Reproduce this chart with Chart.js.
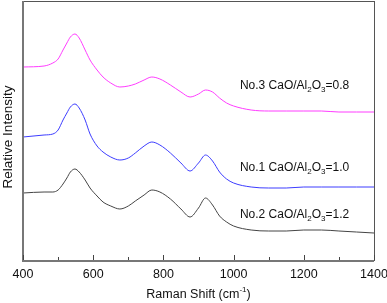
<!DOCTYPE html>
<html>
<head>
<meta charset="utf-8">
<script src="https://cdn.jsdelivr.net/npm/chart.js@4.4.1/dist/chart.umd.min.js"></script>
<style>
  html, body { margin: 0; padding: 0; background: #fff; }
  canvas { display: block; }
</style>
</head>
<body>
<canvas id="raman" width="387" height="303"></canvas>
<script>
// Raman shift (cm-1) sample points
const shifts = [400, 460, 485, 500, 514, 525, 535, 548, 560, 577, 591, 611, 628, 650, 676, 700, 720, 745, 767, 790,
    820, 850, 876, 900, 920, 940, 960, 980, 1000, 1050, 1100, 1150, 1200, 1250, 1300, 1350, 1400];

// relative intensity, offset per sample
const no3 = [193, 194, 197, 201, 210, 217, 223, 226, 222, 210, 200, 190, 183, 177, 173, 174, 176, 180, 183, 181,
    175, 168, 163, 166, 170, 168, 162, 157, 154, 150, 149, 149, 149, 149, 148, 148, 148];
const no1 = [123, 125, 126, 130, 140, 147, 153, 156, 152, 140, 126, 114, 108, 103, 100, 102, 107, 114, 118, 115,
    107, 97, 89, 97, 105, 99, 88, 81, 77, 73, 72, 72, 73, 73, 73, 73, 73];
const no2 = [67, 68, 68, 70, 76, 82, 88, 91, 88, 80, 72, 64, 58, 54, 51, 54, 59, 65, 70, 68,
    61, 51, 43, 52, 62, 55, 44, 38, 34, 30, 29, 29, 30, 30, 29, 28, 27];

const seriesNames = ['No.3', 'No.1', 'No.2'];
const ratios = ['0.8', '1.0', '1.2'];
const labelX = [1018, 1018, 1018];
const labelY = [174, 92, 45];
const colors = ['#ff3cff', '#3c3cff', '#444444'];

const majorTicks = [400, 600, 800, 1000, 1200, 1400];
const minorTicks = [500, 700, 900, 1100, 1300];

const FONT = '"Liberation Sans", Arial, sans-serif';

function toPoints(vals) {
    return shifts.map((s, i) => ({ x: s, y: vals[i] }));
}

// frame, inward ticks, curve labels and axis titles
const decorations = {
    id: 'decorations',
    afterDraw(chart) {
        const ctx = chart.ctx;
        const area = chart.chartArea;
        const xs = chart.scales.x;
        const ys = chart.scales.y;
        ctx.save();

        ctx.strokeStyle = '#555';
        ctx.lineWidth = 1;
        ctx.strokeRect(area.left + 0.5, area.top + 0.5, area.right - area.left, area.bottom - area.top);
        ctx.strokeStyle = '#777';
        ctx.lineWidth = 2;
        ctx.beginPath();
        ctx.moveTo(area.left, area.top);
        ctx.lineTo(area.left, area.bottom + 1);
        ctx.lineTo(area.right, area.bottom + 1);
        ctx.stroke();

        ctx.strokeStyle = '#444';
        ctx.lineWidth = 1;
        majorTicks.forEach(v => {
            const px = Math.round(xs.getPixelForValue(v)) + 0.5;
            ctx.beginPath();
            ctx.moveTo(px, area.bottom);
            ctx.lineTo(px, area.bottom - 5);
            ctx.stroke();
        });
        minorTicks.forEach(v => {
            const px = Math.round(xs.getPixelForValue(v)) + 0.5;
            ctx.beginPath();
            ctx.moveTo(px, area.bottom);
            ctx.lineTo(px, area.bottom - 3);
            ctx.stroke();
        });

        // curve labels: "No.n CaO/Al2O3=r"
        ctx.fillStyle = '#111';
        ctx.textBaseline = 'middle';
        seriesNames.forEach((name, i) => {
            let x = xs.getPixelForValue(labelX[i]);
            const y = ys.getPixelForValue(labelY[i]);
            const parts = [
                [name + ' CaO/Al', 0, 12],
                ['2', 4, 8],
                ['O', 0, 12],
                ['3', 4, 8],
                ['=' + ratios[i], 0, 12]
            ];
            parts.forEach(p => {
                ctx.font = p[2] + 'px ' + FONT;
                ctx.fillText(p[0], x, y + p[1]);
                x += ctx.measureText(p[0]).width;
            });
        });

        // x axis title
        const t1 = 'Raman Shift (cm';
        const t2 = '-1';
        const t3 = ')';
        ctx.font = '12.5px ' + FONT;
        const w1 = ctx.measureText(t1).width;
        const w3 = ctx.measureText(t3).width;
        ctx.font = '8px ' + FONT;
        const w2 = ctx.measureText(t2).width;
        let tx = (area.left + area.right) / 2 - (w1 + w2 + w3) / 2;
        const ty = 295;
        ctx.font = '12.5px ' + FONT;
        ctx.fillText(t1, tx, ty);
        tx += w1;
        ctx.font = '8px ' + FONT;
        ctx.fillText(t2, tx, ty - 5);
        tx += w2;
        ctx.font = '12.5px ' + FONT;
        ctx.fillText(t3, tx, ty);

        // y axis title
        ctx.translate(8.5, 137);
        ctx.rotate(-Math.PI / 2);
        ctx.textAlign = 'center';
        ctx.font = '13.5px ' + FONT;
        ctx.fillText('Relative Intensity', 0, 0);

        ctx.restore();
    }
};

new Chart(document.getElementById('raman'), {
    type: 'line',
    data: {
        datasets: [no3, no1, no2].map((vals, i) => ({
            label: seriesNames[i],
            data: toPoints(vals),
            borderColor: colors[i],
            borderWidth: 1,
            pointRadius: 0,
            fill: false,
            cubicInterpolationMode: 'monotone'
        }))
    },
    options: {
        responsive: false,
        animation: false,
        devicePixelRatio: 1,
        layout: { padding: { top: 1, right: 13, left: 0, bottom: 0 } },
        plugins: {
            legend: { display: false },
            tooltip: { enabled: false }
        },
        scales: {
            x: {
                type: 'linear',
                min: 400,
                max: 1400,
                grid: { display: false, drawTicks: false },
                border: { display: false },
                ticks: {
                    stepSize: 200,
                    padding: 7,
                    color: '#111',
                    font: { family: FONT, size: 12.5 },
                    maxRotation: 0,
                    callback: v => String(v)
                },
                afterFit: s => {
                    s.height = 43;
                    s.paddingLeft = 0;
                    s.paddingRight = 0;
                }
            },
            y: {
                min: 0,
                max: 259,
                grid: { display: false, drawTicks: false },
                border: { display: false },
                ticks: { display: false },
                afterFit: s => { s.width = 23; }
            }
        }
    },
    plugins: [decorations]
});
</script>
</body>
</html>
